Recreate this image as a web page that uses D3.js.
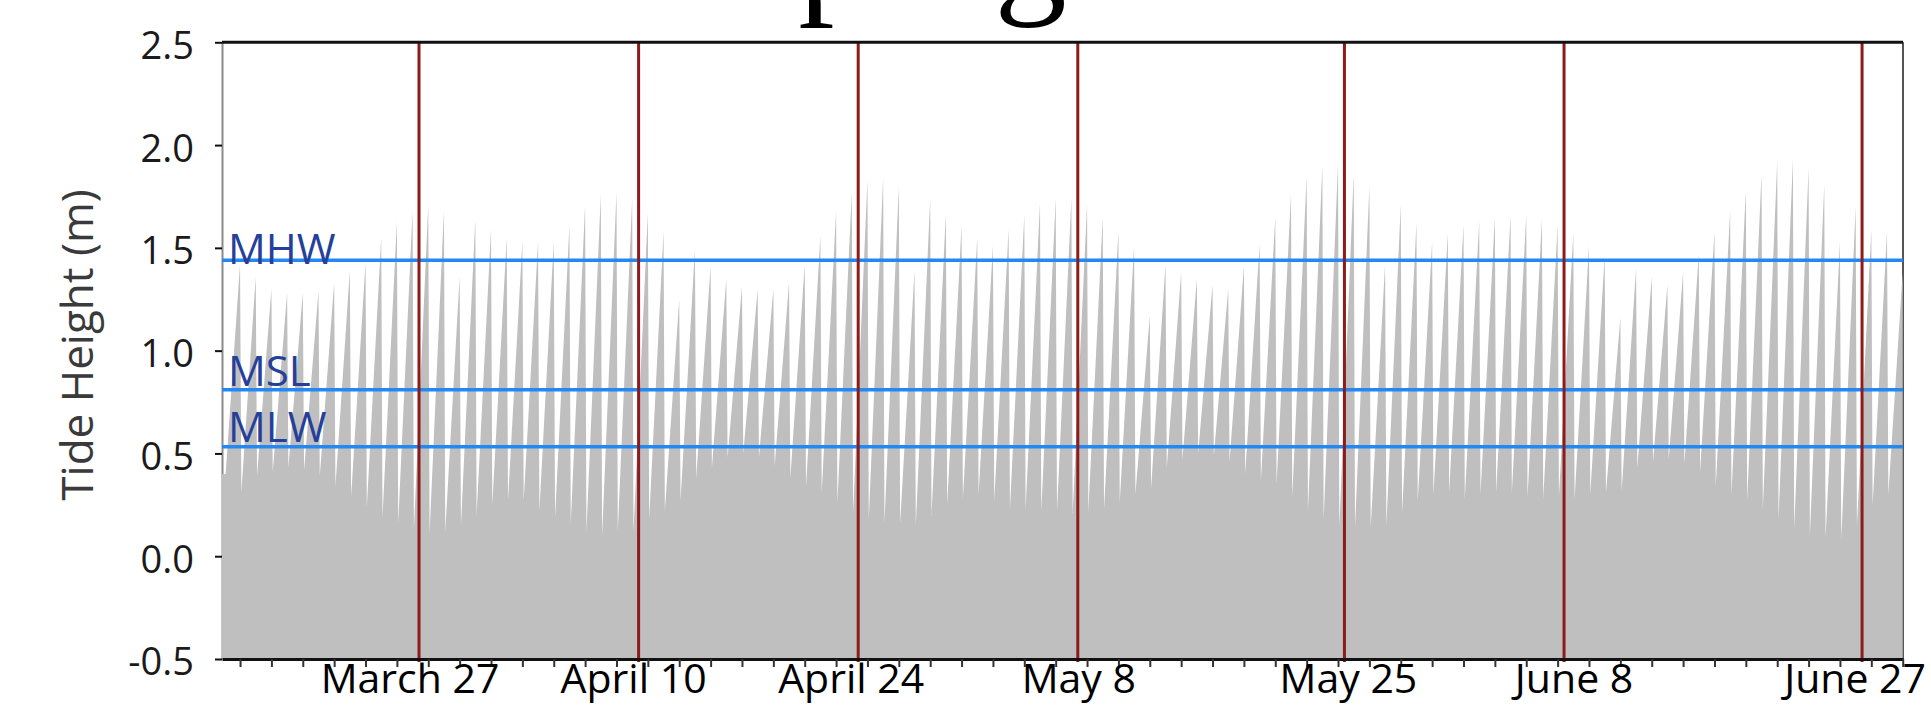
<!DOCTYPE html>
<html><head><meta charset="utf-8">
<script src="https://cdn.jsdelivr.net/npm/d3@7"></script>
<style>html,body{margin:0;padding:0;background:#fff;overflow:hidden}</style>
</head><body>
<svg id="chart" width="1931" height="707"></svg>
<script>
// ---------- data ----------
// daily high-tide heights (m), one per day starting Mar 15
const highTides = [
  1.42, 1.36, 1.30, 1.28, 1.28, 1.29, 1.33, 1.39, 1.43, 1.55, 1.63, 1.68, 1.71, 1.68, 1.36, 1.64, 1.59,
  1.55, 1.53, 1.53, 1.53, 1.61, 1.71, 1.76, 1.77, 1.74, 1.67, 1.58, 1.25, 1.49, 1.41, 1.35, 1.31, 1.30, 1.30,
  1.33, 1.42, 1.56, 1.68, 1.77, 1.83, 1.84, 1.80, 1.39, 1.74, 1.67, 1.61, 1.55, 1.51, 1.59, 1.66, 1.72, 1.74,
  1.74, 1.71, 1.65, 1.58, 1.51, 1.17, 1.42, 1.38, 1.35, 1.32, 1.30, 1.41, 1.52, 1.65, 1.76, 1.85, 1.90, 1.91,
  1.86, 1.80, 1.42, 1.71, 1.62, 1.53, 1.57, 1.61, 1.63, 1.65, 1.66, 1.66, 1.64, 1.61, 1.57, 1.51, 1.46, 1.16,
  1.40, 1.36, 1.32, 1.38, 1.47, 1.58, 1.68, 1.78, 1.86, 1.92, 1.93, 1.89, 1.81, 1.53, 1.70, 1.59, 1.58,
  1.38
];
// low-tide heights (m), the low that precedes each high
const lowTides = [
  0.40,
  0.31, 0.39, 0.41, 0.43, 0.42, 0.39, 0.34, 0.29, 0.24, 0.19, 0.16, 0.13, 0.11, 0.12, 0.15, 0.20, 0.25,
  0.27, 0.27, 0.22, 0.19, 0.16, 0.12, 0.10, 0.12, 0.12, 0.18, 0.22, 0.27, 0.38, 0.43, 0.48, 0.50, 0.48, 0.44,
  0.38, 0.34, 0.31, 0.26, 0.21, 0.18, 0.16, 0.16, 0.15, 0.20, 0.25, 0.28, 0.30, 0.27, 0.23, 0.23, 0.22, 0.22,
  0.21, 0.22, 0.23, 0.26, 0.30, 0.33, 0.43, 0.47, 0.50, 0.49, 0.46, 0.40, 0.37, 0.35, 0.29, 0.22, 0.18, 0.14,
  0.14, 0.14, 0.15, 0.21, 0.27, 0.30, 0.31, 0.28, 0.30, 0.31, 0.31, 0.29, 0.28, 0.29, 0.28, 0.30, 0.31, 0.32,
  0.43, 0.46, 0.47, 0.45, 0.41, 0.34, 0.30, 0.27, 0.23, 0.18, 0.13, 0.10, 0.09, 0.08, 0.15, 0.25, 0.30
];
const firstHighTime = new Date(2015, 2, 15, 14, 10);
const periodStart = new Date(2015, 2, 14, 10, 34);
const periodEnd = new Date(2015, 5, 29, 14, 38);

const markerDates = ["2015-03-27", "2015-04-10", "2015-04-24", "2015-05-08", "2015-05-25", "2015-06-08", "2015-06-27"];
const markerLabels = ["March 27", "April 10", "April 24", "May 8", "May 25", "June 8", "June 27"];

const datumNames = ["MHW", "MSL", "MLW"];
const datumValues = [1.44, 0.81, 0.532];

const yTicks = [-0.5, 0, 0.5, 1.0, 1.5, 2.0, 2.5];
const yTitle = "Tide Height (m)";
const title = "Spring Tides";

// ---------- layout ----------
(function draw() {
const svg = d3.select("#chart");
const pL = 222, pR = 1903, pT = 42.3, pB = 659;
const x = d3.scaleTime().domain([periodStart, periodEnd]).range([pL, pR]);
const y = d3.scaleLinear().domain([-0.5, 2.5]).range([pB, pT]);
const FONT = "'Open Sans', 'Noto Sans', sans-serif";

const highTimes = highTides.map((v, i) => d3.timeDay.offset(firstHighTime, i));
const lowTimes = highTimes.map(t => d3.timeHour.offset(t, -22));

const series = [{t: periodStart, v: lowTides[0]}];
highTides.forEach((v, i) => {
  series.push({t: lowTimes[i], v: lowTides[i]});
  series.push({t: highTimes[i], v: v});
});

const defs = svg.append("defs");
defs.append("filter").attr("id", "soft").append("feGaussianBlur").attr("stdDeviation", 0.6);
defs.append("clipPath").attr("id", "plotclip").append("rect")
  .attr("x", pL).attr("y", pT).attr("width", pR - pL).attr("height", pB - pT);

// y axis (under the fill)
const yAxis = svg.append("g").attr("transform", `translate(${pL},0)`)
  .call(d3.axisLeft(y).tickValues(yTicks).tickSize(7).tickSizeOuter(0).tickPadding(21)
    .tickFormat(d => d.toFixed(1)));
yAxis.select(".domain").attr("stroke", "#8a8a8a").attr("stroke-width", 2);
yAxis.selectAll(".tick line").attr("stroke", "#111").attr("stroke-width", 2);
yAxis.selectAll(".tick text").attr("font-family", FONT).attr("font-size", 38)
  .attr("fill", "#1a1a1a").attr("dy", "0.42em");

// right border
svg.append("line").attr("x1", pR).attr("x2", pR).attr("y1", pT).attr("y2", pB)
  .attr("stroke", "#555").attr("stroke-width", 2);

// fill
const area = d3.area().x(d => x(d.t)).y0(y(-0.5)).y1(d => y(d.v)).curve(d3.curveLinear);
svg.append("g").attr("clip-path", "url(#plotclip)")
  .append("path").datum(series).attr("filter", "url(#soft)")
  .attr("d", area).attr("fill", "#bfbfbf");

// datum lines
svg.append("g").selectAll("line").data(datumValues).join("line")
  .attr("x1", pL).attr("x2", pR)
  .attr("y1", d => y(d)).attr("y2", d => y(d))
  .attr("stroke", "#2388f4").attr("stroke-width", 3.5);

// red marker lines
const parse = d3.timeParse("%Y-%m-%d");
const markers = markerDates.map(parse);
svg.append("g").selectAll("line").data(markers).join("line")
  .attr("x1", d => x(d)).attr("x2", d => x(d))
  .attr("y1", pT).attr("y2", pB + 3)
  .attr("stroke", "#8e1b1b").attr("stroke-width", 3);

// top border
svg.append("line").attr("x1", pL).attr("x2", pR).attr("y1", pT).attr("y2", pT)
  .attr("stroke", "#111").attr("stroke-width", 3);

// bottom axis with 2-day minor ticks
const xAxis = svg.append("g").attr("transform", `translate(0,${pB})`)
  .call(d3.axisBottom(x).tickValues(highTimes.filter((d, i) => i % 2 === 0))
    .tickSize(8).tickSizeOuter(0).tickFormat(""));
xAxis.select(".domain").attr("stroke", "#111").attr("stroke-width", 3);
xAxis.selectAll(".tick line").attr("stroke", "#333").attr("stroke-width", 2);

// datum labels
const datumNudge = [4, -4, -5];
svg.append("g").selectAll("text").data(datumNames).join("text")
  .attr("x", 228).attr("y", (d, i) => y(datumValues[i]) + datumNudge[i])
  .attr("font-family", FONT).attr("font-size", 42).attr("fill", "#24409a")
  .text(d => d);

// date labels
const labelNudge = [-9, -5, -7, 1, 4, 10, -7];
svg.append("g").selectAll("text").data(markerLabels).join("text")
  .attr("x", (d, i) => x(markers[i]) + labelNudge[i]).attr("y", 693)
  .attr("text-anchor", "middle")
  .attr("font-family", FONT).attr("font-size", 41).attr("fill", "#000")
  .text(d => d);

// y title
svg.append("text").attr("transform", "translate(93,345) rotate(-90)")
  .attr("text-anchor", "middle").attr("font-family", FONT).attr("font-size", 44)
  .attr("fill", "#3a3a3a").text(yTitle);

// title (mostly above the frame: only descenders show)
svg.append("text").attr("x", 727).attr("y", -3)
  .attr("font-family", "'Liberation Serif', 'Times New Roman', serif")
  .attr("font-size", 145).attr("letter-spacing", -9.4).attr("fill", "#000").text(title);
})();
</script>
</body></html>
